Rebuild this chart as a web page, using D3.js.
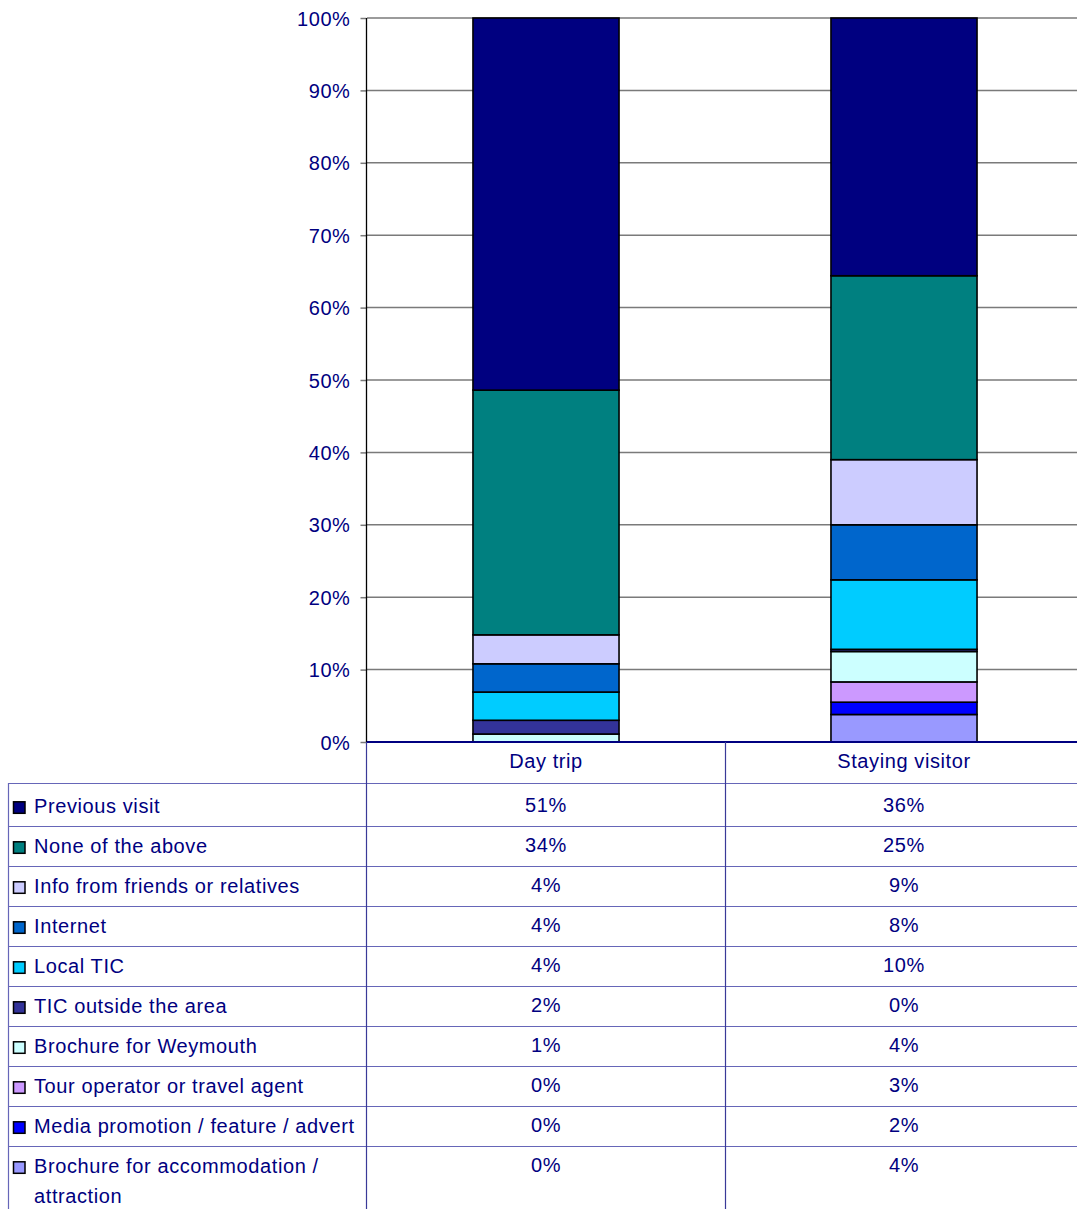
<!DOCTYPE html>
<html>
<head>
<meta charset="utf-8">
<script src="https://cdn.jsdelivr.net/npm/d3@7"></script>
<style>
  html, body { margin: 0; padding: 0; background: #fff; }
  svg { display: block; }
  text { font-family: "Liberation Sans", Arial, sans-serif; font-size: 20px; fill: #000080; letter-spacing: 0.6px; }
</style>
</head>
<body>
<script>
// ---- Data ----
const categories = ["Day trip", "Staying visitor"];
// series listed bottom-of-stack first
const seriesNames = [
  "Brochure for accommodation / attraction",
  "Media promotion / feature / advert",
  "Tour operator or travel agent",
  "Brochure for Weymouth",
  "TIC outside the area",
  "Local TIC",
  "Internet",
  "Info from friends or relatives",
  "None of the above",
  "Previous visit"
];
const seriesColors = [
  "#9999FF", "#0000FF", "#CC99FF", "#CCFFFF", "#333399",
  "#00CCFF", "#0066CC", "#CCCCFF", "#008080", "#000080"
];
const dayTripValues = [0, 0, 0, 1.1, 1.9, 3.9, 3.9, 4.0, 33.8, 51.4];
const stayingValues = [3.8, 1.7, 2.8, 4.2, 0.3, 9.6, 7.6, 9.0, 25.4, 35.6];
const yTicks = [0, 10, 20, 30, 40, 50, 60, 70, 80, 90, 100];

// ---- Setup ----
const W = 1077, H = 1209;
const svg = d3.select("body").append("svg").attr("width", W).attr("height", H);

const plotLeft = 367, plotRight = 1083, plotTop = 18, plotBottom = 742;
const x = d3.scaleBand().domain(categories).range([plotLeft, plotRight]).padding(0);
const y = d3.scaleLinear().domain([0, 100]).range([plotBottom, plotTop]);
const barW = x.bandwidth() * 0.408;

const rows = categories.map((c, ci) => {
  const o = { cat: c };
  const vals = ci === 0 ? dayTripValues : stayingValues;
  seriesNames.forEach((s, si) => o[s] = vals[si]);
  return o;
});
const stacked = d3.stack().keys(seriesNames)(rows);

// gridlines
svg.append("g").selectAll("line").data(yTicks.filter(t => t > 0)).join("line")
  .attr("x1", plotLeft).attr("x2", W)
  .attr("y1", d => y(d)).attr("y2", d => y(d))
  .attr("stroke", "#7a7a7a").attr("stroke-width", 1.5);

// y axis
const yAxis = d3.axisLeft(y).tickValues(yTicks).tickFormat(d => d + "%").tickSize(6).tickPadding(10);
const ga = svg.append("g").attr("transform", `translate(${plotLeft - 0.5},0)`).call(yAxis);
ga.select(".domain").remove();
ga.selectAll(".tick line").attr("stroke", "#7a7a7a").attr("stroke-width", 1.5);
ga.selectAll(".tick text").attr("fill", "#000080").attr("dy", "0.35em");
ga.attr("font-size", null).attr("font-family", null);

// vertical axis line
svg.append("line").attr("x1", plotLeft - 0.5).attr("x2", plotLeft - 0.5)
  .attr("y1", plotTop).attr("y2", plotBottom).attr("stroke", "#000").attr("stroke-width", 1.3);

// bars
stacked.forEach((layer, si) => {
  svg.append("g").selectAll("rect").data(layer).join("rect")
    .attr("x", d => x(d.data.cat) + (x.bandwidth() - barW) / 2)
    .attr("width", barW)
    .attr("y", d => y(d[1]))
    .attr("height", d => Math.max(0, y(d[0]) - y(d[1])))
    .attr("fill", seriesColors[si])
    .attr("stroke", d => (d[1] - d[0]) > 0 ? "#000" : "none")
    .attr("stroke-width", 1.6);
});

// x axis line (0%)
svg.append("line").attr("x1", plotLeft).attr("x2", W)
  .attr("y1", y(0)).attr("y2", y(0)).attr("stroke", "#000080").attr("stroke-width", 2);

// ---- Data table ----
const tableLeft = 8.5;
const headerBottom = 783;
const firstRowH = 43, rowH = 40;
const tableOrder = seriesNames.slice().reverse();
const tableColors = seriesColors.slice().reverse();
const rowTops = tableOrder.map((_, i) => i === 0 ? headerBottom : headerBottom + firstRowH + (i - 1) * rowH);
const rowHeights = tableOrder.map((_, i) => i === 0 ? firstRowH : rowH);
const lineColor = "#6666b8";

svg.append("g").selectAll("line").data(rowTops).join("line")
  .attr("x1", tableLeft).attr("x2", W)
  .attr("y1", d => d + 0.5).attr("y2", d => d + 0.5)
  .attr("stroke", lineColor).attr("stroke-width", 1);
svg.append("line").attr("x1", tableLeft).attr("x2", tableLeft)
  .attr("y1", headerBottom).attr("y2", H).attr("stroke", lineColor).attr("stroke-width", 1.2);
[plotLeft - 0.5, x(categories[1]) + 0.5].forEach(xx => {
  svg.append("line").attr("x1", xx).attr("x2", xx)
    .attr("y1", plotBottom).attr("y2", H).attr("stroke", "#3a3a98").attr("stroke-width", 1.2);
});

// header labels
svg.append("g").selectAll("text").data(categories).join("text")
  .attr("x", d => x(d) + x.bandwidth() / 2)
  .attr("y", 768)
  .attr("text-anchor", "middle")
  .text(d => d);

// legend cells + values
const fmt = v => Math.round(v) + "%";
tableOrder.forEach((name, i) => {
  const base = rowTops[i] + rowHeights[i] - 12.7;
  svg.append("rect")
    .attr("x", 13.5).attr("y", base - 11.5)
    .attr("width", 11.5).attr("height", 11.5)
    .attr("fill", tableColors[i]).attr("stroke", "#000").attr("stroke-width", 1.5);
  const t = svg.append("text").attr("x", 34).attr("y", base);
  const words = name.split(" ");
  let line = [];
  let tspan = t.append("tspan").attr("x", 34).attr("y", base);
  let lineNo = 0;
  words.forEach(w => {
    line.push(w);
    tspan.text(line.join(" "));
    if (tspan.node().getComputedTextLength() > 326 && line.length > 1) {
      line.pop();
      tspan.text(line.join(" "));
      line = [w];
      lineNo++;
      tspan = t.append("tspan").attr("x", 34).attr("y", base + lineNo * 30).text(w);
    }
  });
  const vbase = rowTops[i] + rowHeights[i] - 14.3;
  categories.forEach((c, ci) => {
    const vals = ci === 0 ? dayTripValues : stayingValues;
    svg.append("text")
      .attr("x", x(c) + x.bandwidth() / 2)
      .attr("y", vbase)
      .attr("text-anchor", "middle")
      .text(fmt(vals[seriesNames.indexOf(name)]));
  });
});
</script>
</body>
</html>
